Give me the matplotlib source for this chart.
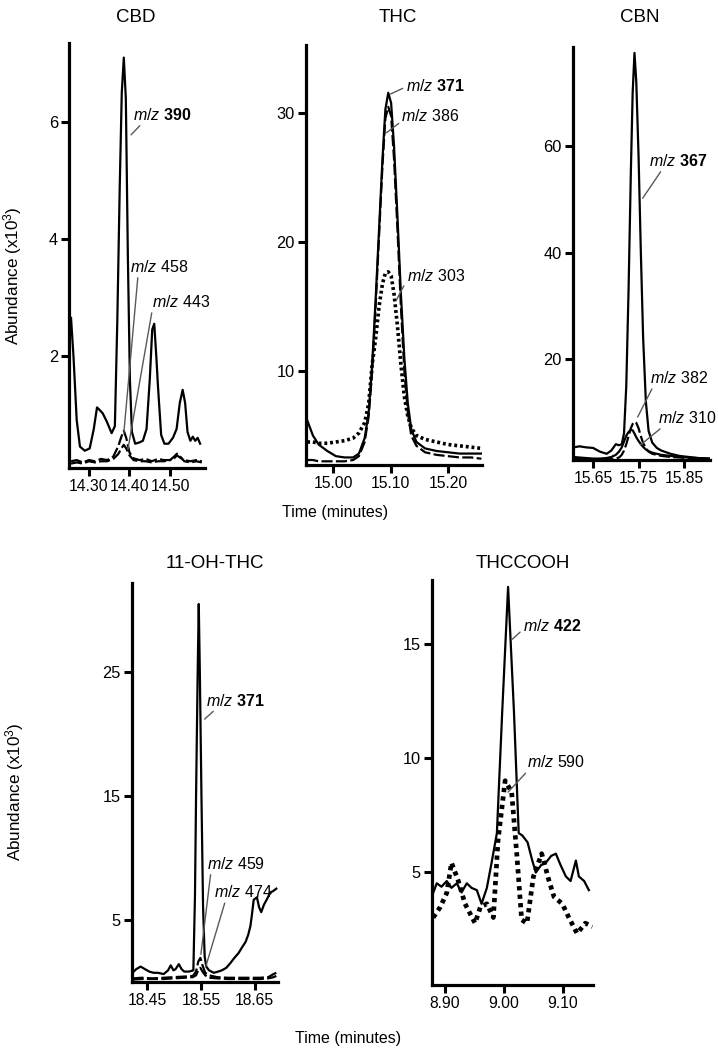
import matplotlib
matplotlib.use('Agg')
import matplotlib.pyplot as plt
from matplotlib.ticker import FormatStrFormatter

plt.rcParams['font.family'] = ['Liberation Sans', 'DejaVu Sans']
plt.rcParams['mathtext.fontset'] = 'custom'
plt.rcParams['mathtext.rm'] = 'Liberation Sans'
plt.rcParams['mathtext.it'] = 'Liberation Sans:italic'
plt.rcParams['mathtext.bf'] = 'Liberation Sans:bold'
plt.rcParams['mathtext.default'] = 'regular'

# CBD
cbd_t_390 = [14.256, 14.262, 14.270, 14.278, 14.290, 14.302, 14.312, 14.320, 14.326, 14.334, 14.344,
             14.356, 14.364, 14.370, 14.376, 14.381, 14.386, 14.391, 14.396, 14.401, 14.406, 14.414,
             14.424, 14.433, 14.442, 14.450, 14.456, 14.461, 14.466, 14.470, 14.478, 14.486, 14.496,
             14.507, 14.516, 14.524, 14.531, 14.537, 14.543, 14.550, 14.556, 14.562, 14.568, 14.574]
cbd_390 = [2.65, 2.0, 0.9, 0.45, 0.38, 0.42, 0.75, 1.12, 1.08, 1.02, 0.88,
           0.68, 0.8, 2.6, 4.9, 6.5, 7.1, 6.4, 3.7, 1.6, 0.7, 0.5,
           0.52, 0.55, 0.75, 1.6, 2.45, 2.55, 2.0, 1.5, 0.65, 0.5, 0.5,
           0.6, 0.75, 1.2, 1.42, 1.2, 0.7, 0.55, 0.62, 0.55, 0.6, 0.5]
cbd_t_low = [14.256, 14.270, 14.285, 14.300, 14.315, 14.330, 14.345, 14.360, 14.372, 14.380, 14.386,
             14.392, 14.400, 14.410, 14.425, 14.440, 14.455, 14.470, 14.485, 14.500, 14.510, 14.517,
             14.525, 14.535, 14.550, 14.565, 14.578]
cbd_458 = [0.2, 0.22, 0.18, 0.22, 0.2, 0.24, 0.22, 0.28, 0.45, 0.62, 0.72,
           0.6, 0.35, 0.25, 0.22, 0.24, 0.2, 0.24, 0.22, 0.22, 0.25, 0.3,
           0.26, 0.22, 0.2, 0.22, 0.2]
cbd_443 = [0.16, 0.18, 0.16, 0.2, 0.18, 0.2, 0.2, 0.24, 0.32, 0.42, 0.48,
           0.42, 0.3, 0.22, 0.2, 0.2, 0.18, 0.2, 0.2, 0.22, 0.28, 0.33,
           0.28, 0.2, 0.18, 0.2, 0.18]

# THC
thc_t = [14.955, 14.965, 14.975, 14.990, 15.005, 15.020, 15.035, 15.045, 15.055, 15.062, 15.068,
         15.074, 15.080, 15.086, 15.091, 15.096, 15.101, 15.106, 15.112, 15.118, 15.124, 15.130,
         15.136, 15.145, 15.160, 15.180, 15.200, 15.220, 15.240, 15.258]
thc_371 = [6.2, 5.0, 4.3, 3.8, 3.4, 3.3, 3.3, 3.6, 4.8, 6.8, 10.5,
           15.5, 21.0, 26.5, 30.3, 31.6, 30.8, 27.5, 22.0, 16.0, 11.0, 7.5,
           5.5, 4.5, 4.0, 3.8, 3.7, 3.6, 3.6, 3.6]
thc_386 = [3.1, 3.1, 3.0, 3.0, 3.0, 3.0, 3.1, 3.4, 4.5, 6.5, 10.0,
           15.0, 20.5, 26.0, 29.6, 30.5, 29.8, 26.5, 21.0, 15.0, 10.0, 6.8,
           5.0, 4.2, 3.7, 3.5, 3.4, 3.3, 3.3, 3.2]
thc_303 = [4.5, 4.5, 4.4, 4.4, 4.5, 4.6, 4.8, 5.2, 6.0, 7.5, 10.5,
           12.5, 15.0, 16.8, 17.6, 17.7, 17.4, 16.0, 13.5, 10.5, 8.0, 6.5,
           5.6, 5.0, 4.7, 4.5, 4.3, 4.2, 4.1, 4.0]

# CBN
cbn_t = [15.607, 15.620, 15.635, 15.650, 15.665, 15.680, 15.690, 15.700, 15.707, 15.713, 15.718,
         15.723, 15.728, 15.733, 15.737, 15.741, 15.745, 15.750, 15.755, 15.760, 15.766, 15.772,
         15.780, 15.790, 15.800, 15.820, 15.840, 15.860, 15.880, 15.905]
cbn_367 = [3.4, 3.6, 3.4, 3.3, 2.6, 2.2, 2.8, 4.0, 3.8, 4.0, 6.0,
           15.0, 33.0, 55.0, 70.0, 77.5, 72.0, 58.0, 40.0, 24.0, 12.0, 6.5,
           4.3, 3.3, 2.8, 2.2, 1.8, 1.6, 1.4, 1.3]
cbn_310 = [1.6, 1.5, 1.4, 1.3, 1.3, 1.4, 1.6, 2.0, 2.6, 3.4, 4.5,
           5.6, 6.3, 6.7, 6.6, 6.0, 5.3, 4.6, 4.0, 3.5, 3.0, 2.7,
           2.4, 2.2, 2.0, 1.8, 1.6, 1.5, 1.4, 1.3]
cbn_382 = [1.2, 1.2, 1.1, 1.1, 1.1, 1.2, 1.2, 1.3, 1.5, 2.0, 2.8,
           4.0, 5.5, 7.0, 7.8, 8.2, 8.0, 7.0, 5.5, 4.2, 3.2, 2.6,
           2.2, 2.0, 1.8, 1.6, 1.5, 1.4, 1.3, 1.2]

# 11-OH-THC
oh_t_371 = [18.423, 18.430, 18.438, 18.446, 18.454, 18.462, 18.470, 18.481, 18.489, 18.494, 18.499,
            18.503, 18.509, 18.514, 18.519, 18.528, 18.536, 18.539, 18.541, 18.544, 18.546, 18.548,
            18.551, 18.554, 18.557, 18.560, 18.565, 18.574, 18.582, 18.589, 18.597, 18.605, 18.612,
            18.620, 18.627, 18.633, 18.638, 18.642, 18.645, 18.648, 18.654, 18.658, 18.662, 18.667,
            18.672, 18.679, 18.684, 18.690]
oh_371 = [0.7, 1.0, 1.2, 1.0, 0.8, 0.7, 0.7, 0.6, 0.9, 1.3, 0.9,
          1.0, 1.4, 1.0, 0.8, 0.8, 0.9, 7.0, 15.0, 25.0, 30.5, 25.0,
          15.0, 6.0, 2.0, 1.2, 0.9, 0.7, 0.8, 0.9, 1.1, 1.5, 1.9,
          2.3, 2.8, 3.2, 3.8, 4.5, 5.5, 6.6, 6.8, 6.0, 5.6, 6.2,
          6.6, 7.2, 7.3, 7.5]
oh_t_low = [18.423, 18.440, 18.460, 18.480, 18.500, 18.520, 18.535, 18.541, 18.545, 18.549, 18.553,
            18.558, 18.565, 18.580, 18.600, 18.620, 18.640, 18.660, 18.675, 18.685, 18.690]
oh_459 = [0.25, 0.3, 0.25, 0.3, 0.35, 0.4, 0.45, 0.8, 1.6, 1.9, 1.3,
          0.7, 0.5, 0.35, 0.3, 0.3, 0.3, 0.3, 0.35, 0.6, 0.7]
oh_474 = [0.15, 0.2, 0.2, 0.2, 0.25, 0.3, 0.35, 0.5, 0.9, 1.1, 0.8,
          0.5, 0.3, 0.25, 0.2, 0.2, 0.2, 0.2, 0.25, 0.35, 0.45]

# THCCOOH
cooh_t_422 = [8.880, 8.886, 8.894, 8.903, 8.911, 8.920, 8.928, 8.937, 8.945, 8.954, 8.962,
              8.971, 8.979, 8.988, 8.997, 9.007, 9.017, 9.025, 9.031, 9.040, 9.048, 9.054,
              9.063, 9.071, 9.080, 9.088, 9.096, 9.105, 9.113, 9.122, 9.127, 9.136, 9.144]
cooh_422 = [4.08, 4.5, 4.35, 4.6, 4.3, 4.5, 4.1, 4.5, 4.3, 4.2, 3.6,
            4.3, 5.4, 6.7, 12.0, 17.5, 12.0, 6.7, 6.6, 6.3, 5.5, 4.97,
            5.3, 5.4, 5.7, 5.8, 5.3, 4.8, 4.6, 5.5, 4.8, 4.6, 4.2]
cooh_t_590 = [8.880, 8.892, 8.903, 8.911, 8.922, 8.934, 8.951, 8.960, 8.971, 8.982, 8.990,
              9.002, 9.013, 9.022, 9.030, 9.039, 9.050, 9.064, 9.076, 9.085, 9.099, 9.110,
              9.124, 9.138, 9.150]
cooh_590 = [3.0, 3.46, 4.08, 5.4, 4.65, 3.6, 2.75, 3.46, 3.6, 3.0, 6.4,
            9.0, 8.5, 5.7, 2.9, 2.75, 4.8, 5.8, 4.65, 3.9, 3.6, 3.0,
            2.3, 2.75, 2.6]

SOLID = dict(color='black', lw=1.6, linestyle='-')
DASHED = dict(color='black', lw=1.6, linestyle=(0, (5, 1.5)))
DOTTED = dict(color='black', lw=2.6, linestyle=(0, (0.8, 0.8)), dash_capstyle='butt')
BIGDOT = dict(color='black', lw=3.4, linestyle=(0, (0.9, 0.9)), dash_capstyle='butt')

FS = 11.5


# Style commun des axes
def style_axe(ax, xlim, ylim, xticks, yticks):
    ax.set_xlim(xlim)
    ax.set_ylim(ylim)
    ax.set_xticks(xticks)
    ax.set_yticks(yticks)
    ax.xaxis.set_major_formatter(FormatStrFormatter('%.2f'))
    ax.spines['top'].set_visible(False)
    ax.spines['right'].set_visible(False)
    for s in ['left', 'bottom']:
        ax.spines[s].set_linewidth(2.3)
    ax.tick_params(direction='out', length=5.5, width=2.2, labelsize=11.3, pad=2.5)
    ax.tick_params(axis='y', labelsize=11.8)


# Etiquette m/z avec trait gris
def etiquette(ax, mz, bold, xy, xytext, relpos):
    num = r'$\bf{' + mz + '}$' if bold else mz
    ax.annotate(r'$\it{m/z}$ ' + num, xy=xy, xytext=xytext, textcoords='data',
                ha='left', va='center', fontsize=FS, annotation_clip=False,
                arrowprops=dict(arrowstyle='-', color='0.35', lw=1.0,
                                shrinkA=0, shrinkB=0, relpos=relpos))


fig = plt.figure(figsize=(7.18, 10.5), dpi=100)

# CBD
ax = fig.add_axes([0.0961, 0.5543, 0.1894, 0.4048])
ax.plot(cbd_t_low, cbd_443, **DASHED)
ax.plot(cbd_t_low, cbd_458, **DASHED)
ax.plot(cbd_t_390, cbd_390, **SOLID)
style_axe(ax, (14.251, 14.586), (0.085, 7.35), [14.30, 14.40, 14.50], [2, 4, 6])
etiquette(ax, '390', True, (14.404, 5.78), (14.409, 6.12), (0.16, 0))
etiquette(ax, '458', False, (14.386, 0.68), (14.401, 3.52), (0.14, 0))
etiquette(ax, '443', False, (14.396, 0.40), (14.456, 2.92), (0.0, 0))

# THC
ax = fig.add_axes([0.4262, 0.5571, 0.2451, 0.4])
ax.plot(thc_t, thc_303, **DOTTED)
ax.plot(thc_t, thc_386, **DASHED)
ax.plot(thc_t, thc_371, **SOLID)
style_axe(ax, (14.953, 15.259), (2.71, 35.3), [15.00, 15.10, 15.20], [10, 20, 30])
etiquette(ax, '371', True, (15.100, 31.5), (15.126, 32.1), (0, 0.45))
etiquette(ax, '386', False, (15.093, 28.5), (15.119, 29.8), (0.03, 0.25))
etiquette(ax, '303', False, (15.110, 15.5), (15.128, 17.4), (0.0, 0.2))

# CBN
ax = fig.add_axes([0.7981, 0.5619, 0.1908, 0.3933])
ax.plot(cbn_t, cbn_382, **DASHED)
ax.plot(cbn_t, cbn_310, **SOLID)
ax.plot(cbn_t, cbn_367, **SOLID)
style_axe(ax, (15.606, 15.907), (1.03, 78.6), [15.65, 15.75, 15.85], [20, 40, 60])
etiquette(ax, '367', True, (15.759, 50.2), (15.772, 57.2), (0.24, 0))
etiquette(ax, '382', False, (15.748, 9.1), (15.776, 16.4), (0.05, 0))
etiquette(ax, '310', False, (15.754, 3.85), (15.792, 8.9), (0.1, 0))

# 11-OH-THC
ax = fig.add_axes([0.1838, 0.0648, 0.2033, 0.38])
ax.plot(oh_t_low, oh_474, **DASHED)
ax.plot(oh_t_low, oh_459, **DASHED)
ax.plot(oh_t_371, oh_371, **SOLID)
style_axe(ax, (18.422, 18.693), (-0.04, 32.2), [18.45, 18.55, 18.65], [5, 15, 25])
etiquette(ax, '371', True, (18.557, 21.2), (18.559, 22.7), (0.18, 0))
etiquette(ax, '459', False, (18.550, 2.2), (18.561, 9.5), (0.07, 0))
etiquette(ax, '474', False, (18.559, 1.2), (18.574, 7.2), (0.2, 0))

# THCCOOH
ax = fig.add_axes([0.6017, 0.0619, 0.2242, 0.3857])
ax.plot(cooh_t_590, cooh_590, **BIGDOT)
ax.plot(cooh_t_422, cooh_422, **SOLID)
style_axe(ax, (8.878, 9.151), (0.04, 17.8), [8.90, 9.00, 9.10], [5, 10, 15])
etiquette(ax, '422', True, (9.014, 15.2), (9.032, 15.8), (0, 0.25))
etiquette(ax, '590', False, (9.007, 8.5), (9.039, 9.8), (0.02, 0))

# Titres et labels
titres = [('CBD', 136, 17), ('THC', 398, 17), ('CBN', 640, 17),
          ('11-OH-THC', 215, 563), ('THCCOOH', 523, 563)]
for txt, px, py in titres:
    fig.text(px / 718, 1 - py / 1050, txt, ha='center', va='center', fontsize=13.5)

fig.text(13 / 718, 1 - 276 / 1050, 'Abundance (x10$^3$)', rotation=90,
         ha='center', va='center', fontsize=12.3)
fig.text(15 / 718, 1 - 792 / 1050, 'Abundance (x10$^3$)', rotation=90,
         ha='center', va='center', fontsize=12.3)
fig.text(335 / 718, 1 - 513 / 1050, 'Time (minutes)', ha='center', va='center', fontsize=FS)
fig.text(348 / 718, 1 - 1038 / 1050, 'Time (minutes)', ha='center', va='center', fontsize=FS)

fig.savefig('out.png', dpi=100)
